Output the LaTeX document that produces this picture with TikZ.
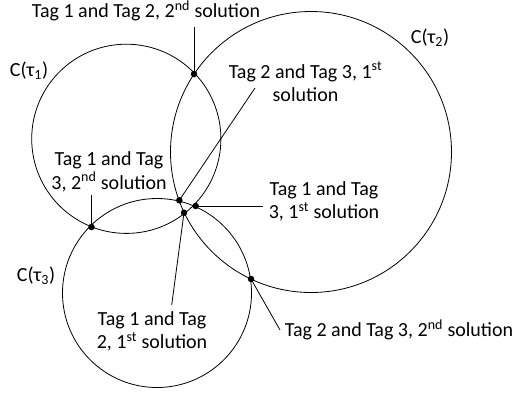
\documentclass[tikz,border=0pt]{standalone}
\usepackage{fontspec}
\setmainfont{Carlito}
\tikzstyle{every node}+=[inner sep=0pt,align=center,font=\fontsize{20}{23.5}\selectfont]
\tikzstyle{every path}+=[line width=0.8pt]
\tikzstyle{solndot}=[circle,fill,inner sep=0pt,minimum size=6.5pt]
\usetikzlibrary{positioning}
\newcommand{\drawleaders}[2][\empty]{
	\foreach \a/\b in {#2}{
		\draw[#1] (\a) -- (\b);
	}
}

\begin{document}
\begin{tikzpicture}[x=1pt,y=-1pt]
\useasboundingbox (0,0) rectangle (514,392);

\draw (126.3,138.8) circle (94.6);
\draw (311,152) circle (140.5);
\draw (157,293) circle (94.5);

\node (c1) at (29,71) {C(τ\textsubscript{1})};
\node (c2) at (430,38) {C(τ\textsubscript{2})};
\node (c3) at (36,276) {C(τ\textsubscript{3})};

\node (l12b) at (146,11) {Tag 1 and Tag 2, 2\textsuperscript{nd} solution};
\node (l23a) at (305.5,82) {Tag 2 and Tag 3, 1\textsuperscript{st}\\solution};
\node (l13b) at (109,172) {Tag 1 and Tag\\3, 2\textsuperscript{nd} solution};
\node (l13a) at (324,201.5) {Tag 1 and Tag\\3, 1\textsuperscript{st} solution};
\node (l12a) at (152,331.5) {Tag 1 and Tag\\2, 1\textsuperscript{st} solution};
\node (l23b) at (399,330) {Tag 2 and Tag 3, 2\textsuperscript{nd} solution};

\node[solndot] (d12b) at (194,74) {};
\node[solndot] (d23a) at (179.3,200.3) {};
\node[solndot] (d13a) at (195.7,206) {};
\node[solndot] (d12a) at (184,212.7) {};
\node[solndot] (d13b) at (91.5,227) {};
\node[solndot] (d23b) at (251,279) {};

\coordinate (e12b) at (194,27);
\coordinate (e23a) at (255,88);
\coordinate (e13b) at (91.5,195);
\coordinate (e13a) at (263,206);
\coordinate (e12a) at (171.7,305);
\coordinate (e23b) at (280,330);

\drawleaders{d12b.center/e12b,d23a.center/e23a,d13b.center/e13b,d13a.center/e13a,d12a.center/e12a,d23b.center/e23b}

\end{tikzpicture}
\end{document}
